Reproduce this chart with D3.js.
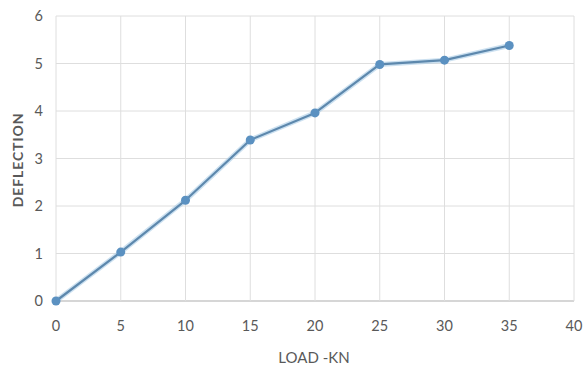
<!DOCTYPE html>
<html>
<head>
<meta charset="utf-8">
<script src="https://cdn.jsdelivr.net/npm/d3@7"></script>
<style>
  html, body { margin: 0; padding: 0; background: #fff; }
  svg { display: block; }
  text { font-family: Lato, "Open Sans", sans-serif; fill: #595959; }
</style>
</head>
<body>
<svg id="chart" width="587" height="369"></svg>
<script>
// Load (kN) against measured deflection
const loads = [0, 5, 10, 15, 20, 25, 30, 35];
const deflections = [0, 1.03, 2.12, 3.39, 3.96, 4.98, 5.07, 5.38];
const xTicks = [0, 5, 10, 15, 20, 25, 30, 35, 40];
const yTicks = [0, 1, 2, 3, 4, 5, 6];
const xTitle = "LOAD -KN";
const yTitle = "DEFLECTION";

const svg = d3.select("#chart");
const plot = { left: 56, right: 574, top: 16, bottom: 301 };

const x = d3.scaleLinear().domain([0, 40]).range([plot.left, plot.right]);
const y = d3.scaleLinear().domain([0, 6]).range([plot.bottom, plot.top]);

// gridlines
svg.append("g").selectAll("line").data(yTicks).join("line")
  .attr("x1", plot.left).attr("x2", plot.right)
  .attr("y1", d => y(d)).attr("y2", d => y(d))
  .attr("stroke", d => d === 0 ? "#c8c8c8" : "#dedede").attr("stroke-width", d => d === 0 ? 1.3 : 1);
svg.append("g").selectAll("line").data(xTicks).join("line")
  .attr("x1", d => x(d)).attr("x2", d => x(d))
  .attr("y1", plot.top).attr("y2", plot.bottom)
  .attr("stroke", "#dedede").attr("stroke-width", 1);

// tick labels
svg.append("g").selectAll("text").data(xTicks).join("text")
  .attr("x", d => x(d)).attr("y", 331)
  .attr("text-anchor", "middle").attr("font-size", 14.5)
  .text(d => d);
svg.append("g").selectAll("text").data(yTicks).join("text")
  .attr("x", 43).attr("y", d => y(d) + 5)
  .attr("text-anchor", "end").attr("font-size", 14.5)
  .text(d => d);

// axis titles
svg.append("text").attr("x", 314).attr("y", 363)
  .attr("text-anchor", "middle").attr("font-size", 15)
  .text(xTitle);
svg.append("text")
  .attr("transform", `translate(23,160) rotate(-90)`)
  .attr("text-anchor", "middle").attr("font-size", 14).attr("font-weight", "bold")
  .attr("letter-spacing", 0.9)
  .text(yTitle);

// series
const pts = loads.map((l, i) => [l, deflections[i]]);
const line = d3.line().x(d => x(d[0])).y(d => y(d[1]));
svg.append("path").datum(pts)
  .attr("d", line).attr("fill", "none")
  .attr("stroke", "#a9cbe6").attr("stroke-width", 5).attr("stroke-linejoin", "round").attr("opacity", 0.6);
svg.append("path").datum(pts)
  .attr("d", line).attr("fill", "none")
  .attr("stroke", "#5d88ad").attr("stroke-width", 2.2).attr("stroke-linejoin", "round");
svg.append("g").selectAll("circle").data(pts).join("circle")
  .attr("cx", d => x(d[0])).attr("cy", d => y(d[1])).attr("r", 4.5)
  .attr("fill", "#5b91c1");
</script>
</body>
</html>
